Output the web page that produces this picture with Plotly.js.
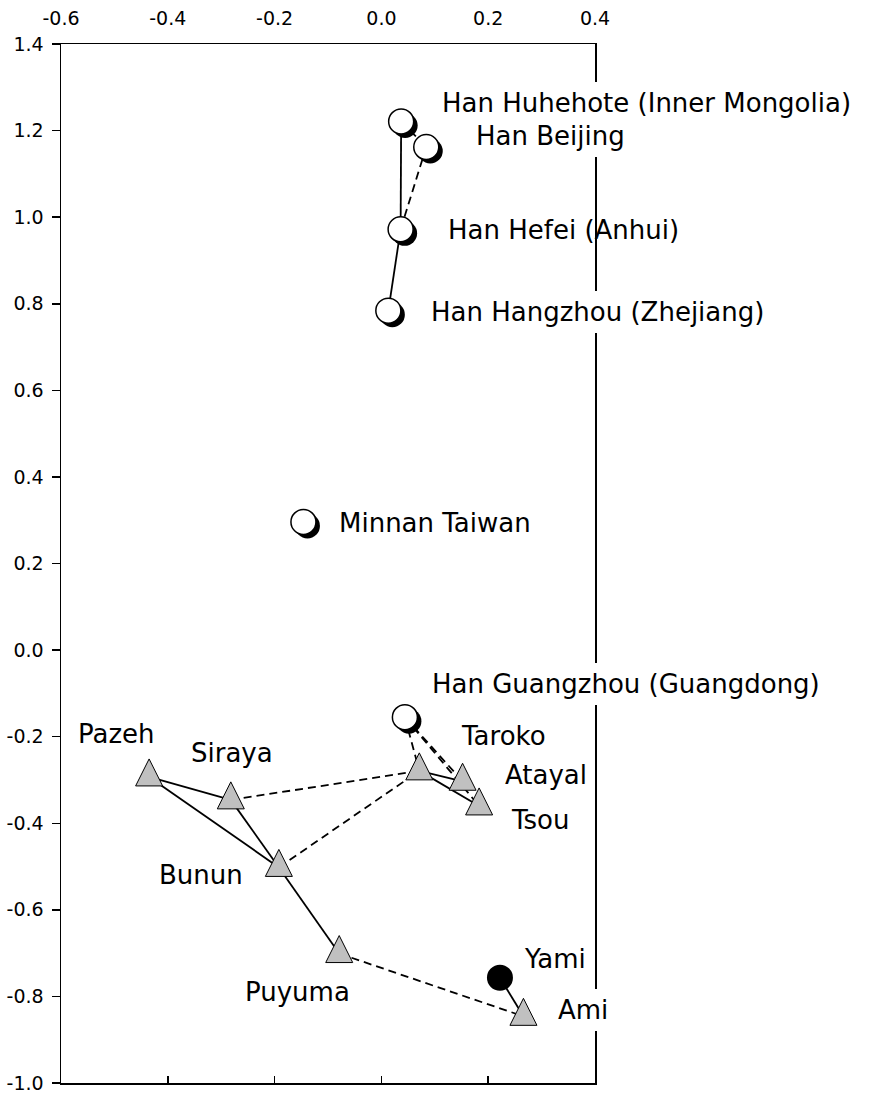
<!DOCTYPE html>
<html>
<head>
<meta charset="utf-8">
<script src="https://cdn.plot.ly/plotly-3.0.1.min.js"></script>
<style>
  html, body { margin: 0; padding: 0; background: #fff; }
  #chart { width: 876px; height: 1096px; }
</style>
</head>
<body>
<div id="chart"></div>
<script>
// Han populations (open circles with a dark drop shadow)
const hanNames = ['Han Beijing', 'Han Huhehote (Inner Mongolia)', 'Han Hefei (Anhui)',
                  'Han Hangzhou (Zhejiang)', 'Minnan Taiwan', 'Han Guangzhou (Guangdong)'];
const hanX = [0.084, 0.037, 0.036, 0.013, -0.146, 0.044];
const hanY = [1.162, 1.221, 0.972, 0.784, 0.296, -0.155];

// Taiwanese aboriginal populations (grey triangles)
const tribeNames = ['Taroko', 'Atayal', 'Tsou', 'Pazeh', 'Siraya', 'Bunun', 'Puyuma', 'Ami'];
const tribeX = [0.071, 0.152, 0.183, -0.435, -0.282, -0.192, -0.079, 0.266];
const tribeY = [-0.279, -0.303, -0.360, -0.293, -0.346, -0.502, -0.701, -0.846];

// Yami (solid black circle)
const yamiNames = ['Yami'];
const yamiX = [0.222];
const yamiY = [-0.757];

// Links between populations
const solidLinks = [
  ['Han Huhehote (Inner Mongolia)', 'Han Hefei (Anhui)'],
  ['Han Hefei (Anhui)', 'Han Hangzhou (Zhejiang)'],
  ['Taroko', 'Atayal'],
  ['Taroko', 'Tsou'],
  ['Pazeh', 'Siraya'],
  ['Pazeh', 'Bunun'],
  ['Siraya', 'Bunun'],
  ['Bunun', 'Puyuma'],
  ['Yami', 'Ami']
];
const dashedLinks = [
  ['Han Huhehote (Inner Mongolia)', 'Han Beijing'],
  ['Han Beijing', 'Han Hefei (Anhui)'],
  ['Han Guangzhou (Guangdong)', 'Taroko'],
  ['Han Guangzhou (Guangdong)', 'Atayal'],
  ['Han Guangzhou (Guangdong)', 'Tsou'],
  ['Siraya', 'Taroko'],
  ['Bunun', 'Taroko'],
  ['Puyuma', 'Ami']
];

// Axis ticks
const xTickVals = [-0.6, -0.4, -0.2, 0.0, 0.2, 0.4];
const xTickText = ['-0.6', '-0.4', '-0.2', '0.0', '0.2', '0.4'];
const yTickVals = [-1.0, -0.8, -0.6, -0.4, -0.2, 0.0, 0.2, 0.4, 0.6, 0.8, 1.0, 1.2, 1.4];
const yTickText = ['-1.0', '-0.8', '-0.6', '-0.4', '-0.2', '0.0', '0.2', '0.4', '0.6', '0.8', '1.0', '1.2', '1.4'];

// ---- presentation ----
const X_RANGE = [-0.6, 0.4];
const Y_RANGE = [-1.0, 1.4];
const PLOT_W = 534, PLOT_H = 1039;      // plot area in px
const SHADOW_PX = 4;                    // drop-shadow offset in px
const PAD = 6;                          // label box padding in px

// label placement relative to each point: [xshift, yshift, white background]
const labelStyle = {
  'Han Huhehote (Inner Mongolia)': [35, 18, true],
  'Han Beijing': [44, 11, true],
  'Han Hefei (Anhui)': [41, -1, false],
  'Han Hangzhou (Zhejiang)': [37, -1, true],
  'Minnan Taiwan': [30, -1, false],
  'Han Guangzhou (Guangdong)': [21, 33, true],
  'Taroko': [36, 35, false],
  'Atayal': [36, 6, false],
  'Tsou': [26, -14, false],
  'Pazeh': [-77, 43, false],
  'Siraya': [-46, 47, false],
  'Bunun': [-126, -8, false],
  'Puyuma': [-100, -38, false],
  'Yami': [18, 19, false],
  'Ami': [29, 6, true]
};

// lookup of every population's coordinates
const pos = {};
hanNames.forEach((n, i) => { pos[n] = [hanX[i], hanY[i]]; });
tribeNames.forEach((n, i) => { pos[n] = [tribeX[i], tribeY[i]]; });
yamiNames.forEach((n, i) => { pos[n] = [yamiX[i], yamiY[i]]; });

function linkTrace(links, dash) {
  const xs = [], ys = [];
  links.forEach(([a, b]) => {
    xs.push(pos[a][0], pos[b][0], null);
    ys.push(pos[a][1], pos[b][1], null);
  });
  return {
    type: 'scatter', mode: 'lines', x: xs, y: ys,
    xaxis: 'x', yaxis: 'y', hoverinfo: 'skip',
    line: { color: '#000', width: 1.8, dash: dash }
  };
}

const traces = [
  linkTrace(solidLinks, 'solid'),
  linkTrace(dashedLinks, '8px,5px'),
  // dark shadow behind the open circles (drawn on a slightly offset overlay axis)
  {
    type: 'scatter', mode: 'markers', x: hanX, y: hanY,
    xaxis: 'x2', yaxis: 'y2', hoverinfo: 'skip',
    marker: { symbol: 'circle', size: 25, color: '#000', line: { width: 0 } }
  },
  {
    type: 'scatter', mode: 'markers', x: hanX, y: hanY, text: hanNames,
    xaxis: 'x3', yaxis: 'y3', hoverinfo: 'text',
    marker: { symbol: 'circle', size: 25, color: '#fff', line: { color: '#000', width: 1.5 } }
  },
  {
    type: 'scatter', mode: 'markers', x: tribeX, y: tribeY, text: tribeNames,
    xaxis: 'x3', yaxis: 'y3', hoverinfo: 'text',
    marker: { symbol: 'arrow-down', angle: 180, standoff: 18, size: 27,
              color: '#c0c0c0', line: { color: '#000', width: 1 } }
  },
  {
    type: 'scatter', mode: 'markers', x: yamiX, y: yamiY, text: yamiNames,
    xaxis: 'x3', yaxis: 'y3', hoverinfo: 'text',
    marker: { symbol: 'circle', size: 26, color: '#000', line: { width: 0 } }
  }
];

const annotations = Object.keys(pos).map(name => {
  const s = labelStyle[name];
  return {
    xref: 'x', yref: 'y', x: pos[name][0], y: pos[name][1],
    text: name, showarrow: false,
    xanchor: 'left', yanchor: 'middle',
    xshift: s[0], yshift: s[1],
    bgcolor: s[2] ? '#fff' : 'rgba(0,0,0,0)',
    borderpad: PAD, borderwidth: 0,
    font: { family: 'DejaVu Sans, Verdana, sans-serif', size: 26, color: '#000' }
  };
});

const dx = SHADOW_PX * (X_RANGE[1] - X_RANGE[0]) / PLOT_W;
const dy = SHADOW_PX * (Y_RANGE[1] - Y_RANGE[0]) / PLOT_H;
const tickFont = { family: 'DejaVu Sans, Verdana, sans-serif', size: 19, color: '#000' };

const layout = {
  width: 876, height: 1096,
  margin: { l: 61, r: 281, t: 44, b: 13, pad: 0 },
  paper_bgcolor: '#fff', plot_bgcolor: '#fff',
  showlegend: false,
  xaxis: {
    range: X_RANGE, side: 'top', tickvals: xTickVals, ticktext: xTickText,
    ticks: '', showline: true, mirror: true, linecolor: '#000', linewidth: 1.5,
    showgrid: false, zeroline: false, tickfont: tickFont, ticklabelstandoff: 10
  },
  yaxis: {
    range: Y_RANGE, tickvals: yTickVals, ticktext: yTickText,
    ticks: 'outside', ticklen: 8, tickwidth: 1.5, tickcolor: '#000',
    showline: true, mirror: true, linecolor: '#000', linewidth: 1.5,
    showgrid: false, zeroline: false, tickfont: tickFont, ticklabelstandoff: 4
  },
  xaxis2: { overlaying: 'x', range: [X_RANGE[0] - dx, X_RANGE[1] - dx], visible: false },
  yaxis2: { overlaying: 'y', range: [Y_RANGE[0] + dy, Y_RANGE[1] + dy], visible: false },
  xaxis3: {
    overlaying: 'x', anchor: 'y3', side: 'bottom', range: X_RANGE,
    tickvals: [-0.4, -0.2, 0.0, 0.2], ticks: 'inside', ticklen: 7, tickwidth: 1.5,
    tickcolor: '#000', showticklabels: false, showline: false,
    showgrid: false, zeroline: false
  },
  yaxis3: { overlaying: 'y', range: Y_RANGE, visible: false },
  annotations: annotations
};

Plotly.newPlot('chart', traces, layout, { displayModeBar: false, staticPlot: true });
</script>
</body>
</html>
